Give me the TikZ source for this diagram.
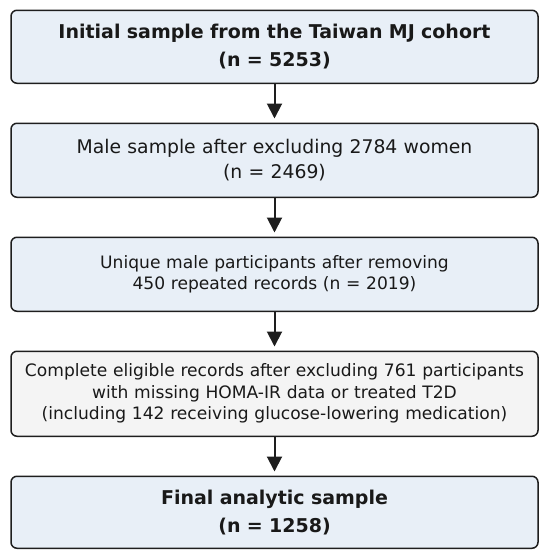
\documentclass[tikz,border=0pt]{standalone}
\usepackage{fontspec}
\setmainfont{DejaVu Sans}
\usetikzlibrary{arrows.meta, positioning}

\definecolor{boxblue}{HTML}{E8EFF7}
\definecolor{boxgray}{HTML}{F4F4F4}
\definecolor{edgedark}{HTML}{1E1E1E}

\tikzset{
    flowbox/.style={draw=edgedark, line width=1.5pt, rounded corners=6pt,
        fill=boxblue, minimum width=527pt, text width=520pt,
        align=center, inner sep=0pt, text=black!90},
    headbox/.style={flowbox, font=\fontsize{19}{28}\selectfont\bfseries},
    plainbox/.style={flowbox, font=\fontsize{18.8}{25}\selectfont},
    smallbox/.style={flowbox, font=\fontsize{17.1}{21.5}\selectfont},
    flowarrow/.style={edgedark, line width=2pt,
        -{Triangle[length=15pt, width=15pt]}, shorten >=4pt}
}

\begin{document}
\begin{tikzpicture}[node distance=38.5pt]

\useasboundingbox (0,0) rectangle (550pt,-554pt);

% ---------------------------------------------------------
%  flow of the sample selection
% ---------------------------------------------------------
\node[headbox, minimum height=73pt, anchor=north] (initial) at (274.5pt,-9.5pt)
    {Initial sample from the Taiwan MJ cohort\\(n = 5253)};

\node[plainbox, minimum height=74pt, below=of initial] (male)
    {Male sample after excluding 2784 women\\(n = 2469)};

\node[smallbox, minimum height=74pt, below=of male] (unique)
    {Unique male participants after removing\\450 repeated records (n = 2019)};

\node[smallbox, fill=boxgray, minimum height=85pt, below=of unique] (eligible)
    {Complete eligible records after excluding 761 participants\\
     with missing HOMA-IR data or treated T2D\\
     (including 142 receiving glucose-lowering medication)};

\node[headbox, minimum height=72pt, below=of eligible] (final)
    {Final analytic sample\\(n = 1258)};

% arrows between the steps
\draw[flowarrow] (initial) -- (male);
\draw[flowarrow] (male) -- (unique);
\draw[flowarrow] (unique) -- (eligible);
\draw[flowarrow] (eligible) -- (final);

\end{tikzpicture}
\end{document}
